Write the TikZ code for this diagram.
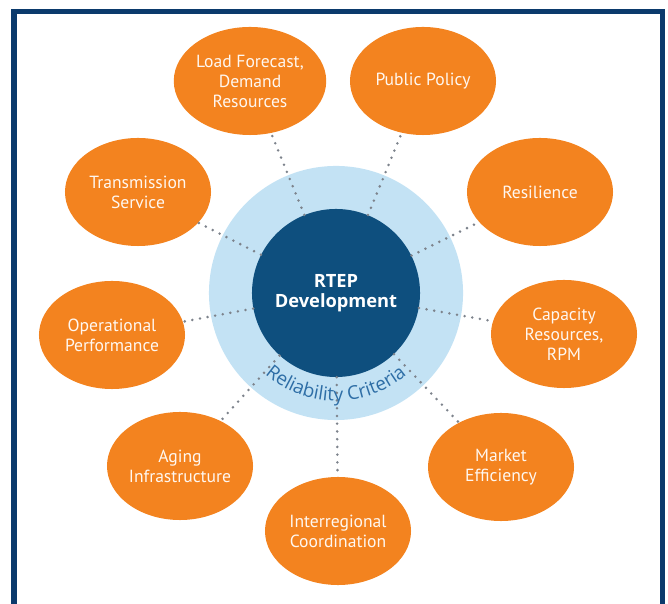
\documentclass[tikz,border=0pt]{standalone}
\usepackage{fontspec}
\newfontfamily\ellfont{PT Sans}
\newfontfamily\corefont{Open Sans}
\usepackage{tikz}
\usetikzlibrary{calc,shapes.geometric,decorations.text}
\definecolor{rtorange}{HTML}{F3831F}
\definecolor{rtcore}{HTML}{0E4F7E}
\definecolor{rtring}{HTML}{C3E2F4}
\definecolor{rtcrit}{HTML}{2E6EA6}
\definecolor{rtdots}{HTML}{7D838C}
\definecolor{rtframe}{HTML}{0B3A6C}
\tikzstyle{facteur} = [ellipse, fill=rtorange, minimum width=3.65cm, minimum height=2.7cm, inner sep=0pt, align=center, text=white!94!orange, font=\ellfont\fontsize{12.5}{14.2}\selectfont]
\tikzstyle{noyau} = [circle, fill=rtcore, minimum size=4.2cm, inner sep=0pt, align=center, text=white, font=\corefont\bfseries\fontsize{13}{14.5}\selectfont]
\tikzstyle{anneau} = [circle, fill=rtring, minimum size=6.35cm, inner sep=0pt]
\tikzstyle{lien} = [draw=rtdots, line width=2pt, line cap=round, dash pattern=on 0pt off 5.5pt]

\begin{document}
\begin{tikzpicture}[x=0.025cm, y=0.025cm]

        \useasboundingbox (0,0) rectangle (668,603);
        \begin{scope}
            \clip (0,0) rectangle (668,603);
            \draw[rtframe, line width=3.6pt] (14,591.5) rectangle (662.5,-20);
        \end{scope}

        \node (ring) [anneau] at (336,310) {};
        \node (core) [noyau] at (336,310) {RTEP\\Development};

        \node (load) [facteur] at (250,522) {Load Forecast,\\Demand\\Resources};
        \node (policy) [facteur] at (423,522) {Public Policy};
        \node (trans) [facteur] at (138,411) {Transmission\\Service};
        \node (resil) [facteur] at (540,411) {Resilience};
        \node (oper) [facteur] at (112,268) {Operational\\Performance};
        \node (capac) [facteur] at (564,269) {Capacity\\Resources,\\RPM};
        \node (aging) [facteur] at (180,137) {Aging\\Infrastructure};
        \node (market) [facteur] at (501,136) {Market\\Efficiency};
        \node (inter) [facteur] at (338,72) {Interregional\\Coordination};

        \foreach \cible in {load,policy,trans,resil,oper,capac,aging,market,inter}
            \draw[lien] (core) -- (\cible);

        \path[decorate, decoration={text along path, text color=rtcrit, text align=center,
            text={|\corefont\fontsize{13.5}{15}\selectfont|Reliability Criteria}}]
            ($(core.center) + (195:2.7cm)$) arc[start angle=195, end angle=345, radius=2.7cm];

    \end{tikzpicture}
\end{document}
